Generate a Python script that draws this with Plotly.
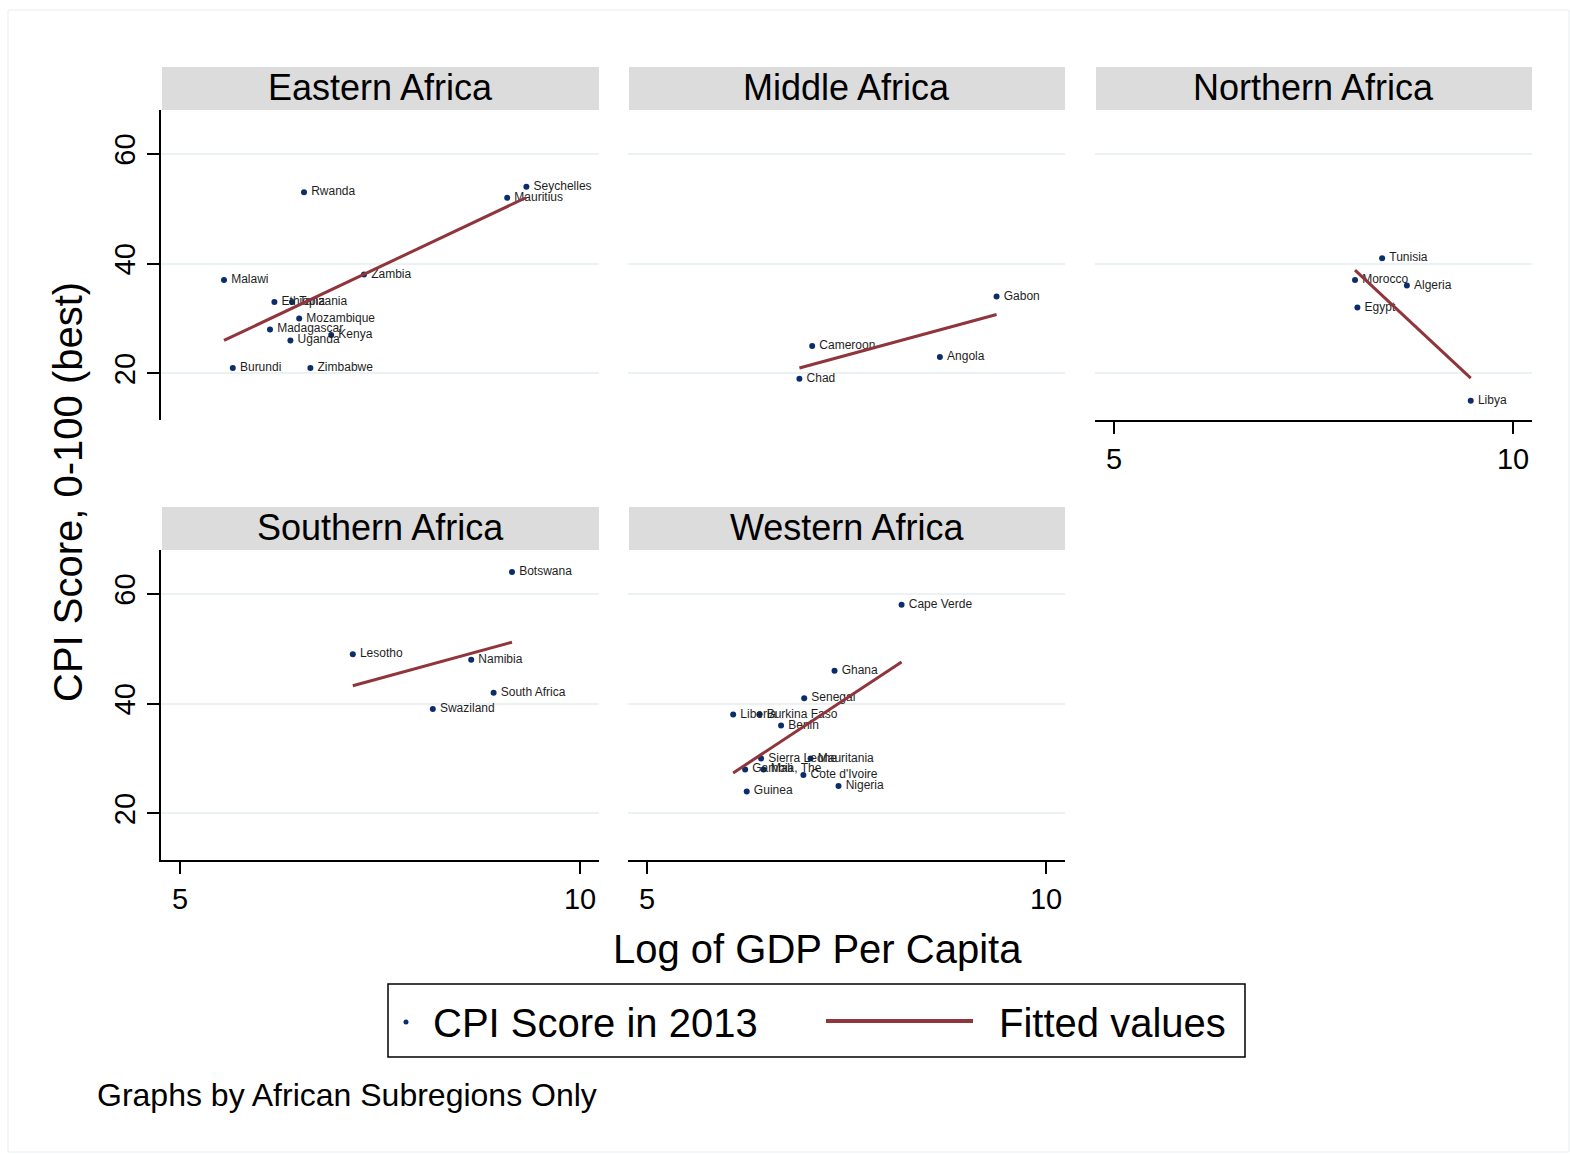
import plotly.graph_objects as go

# ---------------- data ----------------
regions = ["Eastern Africa", "Middle Africa", "Northern Africa", "Southern Africa", "Western Africa"]

eastern_countries = ["Rwanda", "Seychelles", "Mauritius", "Malawi", "Zambia", "Ethiopia", "Tanzania",
                     "Mozambique", "Madagascar", "Kenya", "Uganda", "Burundi", "Zimbabwe"]
eastern_gdp = [6.55, 9.33, 9.09, 5.55, 7.30, 6.18, 6.40, 6.49, 6.125, 6.89, 6.38, 5.66, 6.63]
eastern_cpi = [53, 54, 52, 37, 38, 33, 33, 30, 28, 27, 26, 21, 21]
eastern_fit_x = [5.55, 9.33]
eastern_fit_y = [26.0, 52.05]

middle_countries = ["Gabon", "Cameroon", "Angola", "Chad"]
middle_gdp = [9.38, 7.07, 8.67, 6.91]
middle_cpi = [34, 25, 23, 19]
middle_fit_x = [6.91, 9.38]
middle_fit_y = [20.97, 30.73]

northern_countries = ["Tunisia", "Morocco", "Algeria", "Egypt", "Libya"]
northern_gdp = [8.36, 8.02, 8.67, 8.05, 9.47]
northern_cpi = [41, 37, 36, 32, 15]
northern_fit_x = [8.02, 9.47]
northern_fit_y = [38.8, 19.15]

southern_countries = ["Botswana", "Lesotho", "Namibia", "South Africa", "Swaziland"]
southern_gdp = [9.15, 7.16, 8.64, 8.92, 8.16]
southern_cpi = [64, 49, 48, 42, 39]
southern_fit_x = [7.16, 9.15]
southern_fit_y = [43.25, 51.2]

western_countries = ["Cape Verde", "Ghana", "Senegal", "Liberia", "Burkina Faso", "Benin", "Sierra Leone",
                     "Mauritania", "Gambia, The", "Mali", "Cote d'Ivoire", "Nigeria", "Guinea"]
western_gdp = [8.19, 7.35, 6.97, 6.08, 6.41, 6.68, 6.43, 7.05, 6.23, 6.46, 6.96, 7.40, 6.25]
western_cpi = [58, 46, 41, 38, 38, 36, 30, 30, 28, 28, 27, 25, 24]
western_fit_x = [6.08, 8.19]
western_fit_y = [27.36, 47.6]

x_tickvals = [5, 10]
y_tickvals = [20, 40, 60]

# ---------------- styling / layout ----------------
W, H = 1570, 1154
FONT = "Liberation Sans, Arial, Helvetica, sans-serif"
NAVY = "#0b2d6b"
MAROON = "#90353b"
GRID = "#eaf2f3"
STRIP = "#dcdcdc"

def px_x(p):
    return p / W

def px_y(p):
    return 1 - p / H

col_px = [(161, 599), (628, 1065), (1095, 1532)]
row_px = [(110, 420), (550, 860)]

panels = [
    (eastern_countries, eastern_gdp, eastern_cpi, eastern_fit_x, eastern_fit_y, 0, 0),
    (middle_countries, middle_gdp, middle_cpi, middle_fit_x, middle_fit_y, 0, 1),
    (northern_countries, northern_gdp, northern_cpi, northern_fit_x, northern_fit_y, 0, 2),
    (southern_countries, southern_gdp, southern_cpi, southern_fit_x, southern_fit_y, 1, 0),
    (western_countries, western_gdp, western_cpi, western_fit_x, western_fit_y, 1, 1),
]

# which panels show axes
show_x = {2, 3, 4}
show_y = {0, 3}

fig = go.Figure()
layout = dict(
    width=W, height=H,
    margin=dict(l=0, r=0, t=0, b=0),
    paper_bgcolor="white", plot_bgcolor="white",
    showlegend=False,
    font=dict(family=FONT, color="black"),
    shapes=[], annotations=[],
)

for i, (names, gx, cy, fx, fy, r, c) in enumerate(panels):
    n = i + 1
    xa = "x" if n == 1 else f"x{n}"
    ya = "y" if n == 1 else f"y{n}"
    fig.add_trace(go.Scatter(
        x=gx, y=cy, text=["\u2009" + s for s in names], mode="markers+text",
        textposition="middle right",
        textfont=dict(family=FONT, size=12, color="#1e1e1e"),
        marker=dict(color=NAVY, size=6),
        cliponaxis=False, xaxis=xa, yaxis=ya, name="CPI Score in 2013"))
    fig.add_trace(go.Scatter(
        x=fx, y=fy, mode="lines", line=dict(color=MAROON, width=3),
        xaxis=xa, yaxis=ya, name="Fitted values"))

    x0, x1 = col_px[c]
    y0, y1 = row_px[r]
    xkey = "xaxis" if n == 1 else f"xaxis{n}"
    ykey = "yaxis" if n == 1 else f"yaxis{n}"
    sx = i in show_x
    sy = i in show_y
    layout[xkey] = dict(
        domain=[px_x(x0), px_x(x1)], anchor=ya, range=[4.7625, 10.2375],
        showgrid=False, zeroline=False,
        showline=sx, linecolor="black", linewidth=2,
        ticks="outside" if sx else "", ticklen=12, tickwidth=2, tickcolor="black",
        tickvals=x_tickvals, showticklabels=sx,
        tickfont=dict(family=FONT, size=29, color="black"),
    )
    layout[ykey] = dict(
        domain=[px_y(y1), px_y(y0)], anchor=xa, range=[11.5, 68.0],
        showgrid=True, gridcolor=GRID, gridwidth=2, zeroline=False,
        showline=sy, linecolor="black", linewidth=2,
        ticks="outside" if sy else "", ticklen=12, tickwidth=2, tickcolor="black",
        tickvals=y_tickvals, showticklabels=sy, tickangle=-90,
        tickfont=dict(family=FONT, size=29, color="black"),
    )
    # strip header
    layout["shapes"].append(dict(
        type="rect", xref="paper", yref="paper",
        x0=px_x(x0 + 1), x1=px_x(x1), y0=px_y(y0), y1=px_y(y0 - 43),
        fillcolor=STRIP, line=dict(width=0), layer="below"))
    layout["annotations"].append(dict(
        text=regions[i], xref="paper", yref="paper",
        x=px_x((x0 + x1) / 2), y=px_y(y0 - 22.5), xanchor="center", yanchor="middle",
        showarrow=False, font=dict(family=FONT, size=36, color="black")))

# outer border
layout["shapes"].append(dict(type="rect", xref="paper", yref="paper",
                             x0=px_x(8), x1=px_x(1569), y0=px_y(1152), y1=px_y(10),
                             line=dict(color="#e6eef0", width=1), layer="below"))

# axis titles
layout["annotations"].append(dict(
    text="CPI Score, 0-100 (best)", xref="paper", yref="paper",
    x=px_x(68), y=px_y(492), xanchor="center", yanchor="middle", textangle=-90,
    showarrow=False, font=dict(family=FONT, size=40, color="black")))
layout["annotations"].append(dict(
    text="Log of GDP Per Capita", xref="paper", yref="paper",
    x=px_x(817), y=px_y(949), xanchor="center", yanchor="middle",
    showarrow=False, font=dict(family=FONT, size=40, color="black")))

# legend (drawn manually to match the boxed Stata legend)
layout["shapes"].append(dict(type="rect", xref="paper", yref="paper",
                             x0=px_x(388), x1=px_x(1245), y0=px_y(1057), y1=px_y(984),
                             line=dict(color="black", width=1.5)))
layout["shapes"].append(dict(type="circle", xref="paper", yref="paper",
                             x0=px_x(403.5), x1=px_x(408.5), y0=px_y(1024.5), y1=px_y(1019.5),
                             fillcolor=NAVY, line=dict(width=0)))
layout["shapes"].append(dict(type="line", xref="paper", yref="paper",
                             x0=px_x(826), x1=px_x(973), y0=px_y(1021), y1=px_y(1021),
                             line=dict(color=MAROON, width=4)))
layout["annotations"].append(dict(
    text="CPI Score in 2013", xref="paper", yref="paper",
    x=px_x(431), y=px_y(1023), xanchor="left", yanchor="middle",
    showarrow=False, font=dict(family=FONT, size=40, color="black")))
layout["annotations"].append(dict(
    text="Fitted values", xref="paper", yref="paper",
    x=px_x(997), y=px_y(1023), xanchor="left", yanchor="middle",
    showarrow=False, font=dict(family=FONT, size=40, color="black")))

# note
layout["annotations"].append(dict(
    text="Graphs by African Subregions Only", xref="paper", yref="paper",
    x=px_x(95), y=px_y(1095), xanchor="left", yanchor="middle",
    showarrow=False, font=dict(family=FONT, size=32, color="black")))

fig.update_layout(**layout)
fig.write_html("out.html",
               config={"displayModeBar": False},
               post_script="document.body.style.margin='0';document.body.style.overflow='hidden';")
